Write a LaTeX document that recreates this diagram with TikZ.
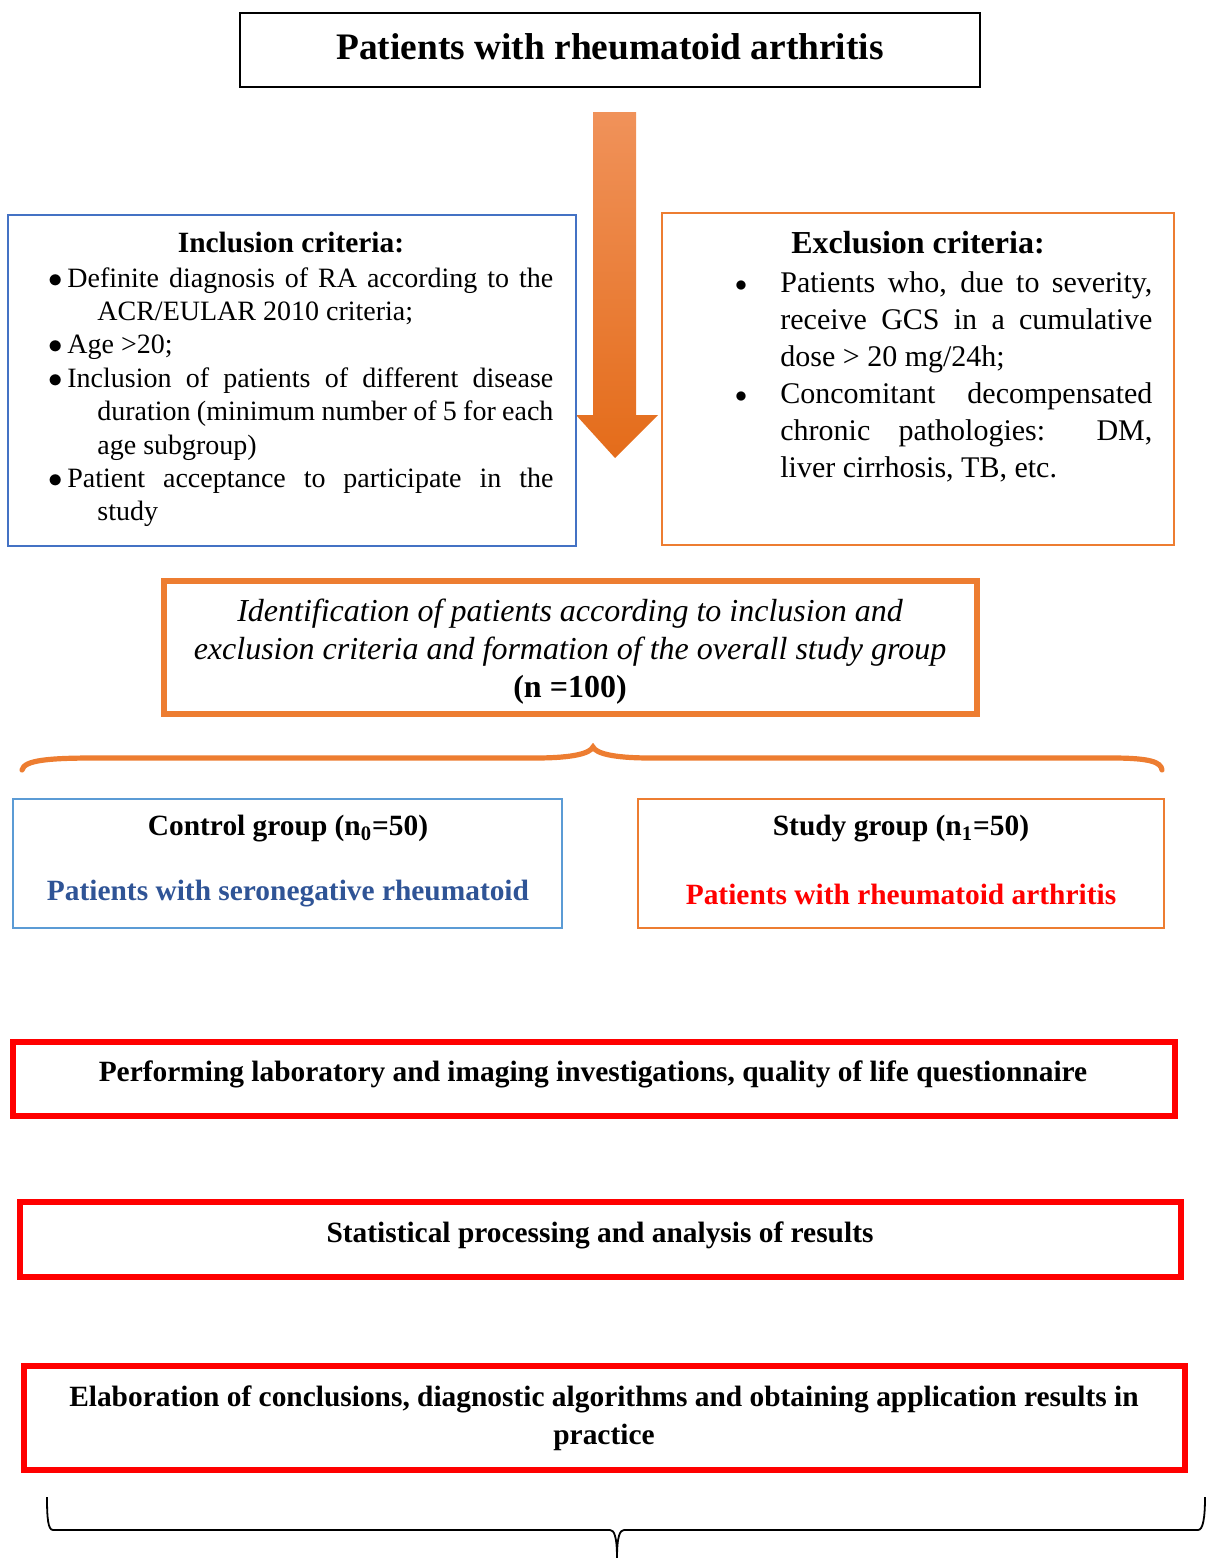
\documentclass[tikz,border=0pt]{standalone}
\usepackage{xcolor}
\usepackage{fontspec}
\setmainfont{Liberation Serif}
\usepackage{tikz}
\usetikzlibrary{positioning}

\definecolor{incblue}{HTML}{4472C4}
\definecolor{ctrlblue}{HTML}{5B9BD5}
\definecolor{txtblue}{HTML}{2F5496}
\definecolor{accorange}{HTML}{ED7D31}
\definecolor{arrtop}{HTML}{F0925A}
\definecolor{arrmid}{HTML}{F18127}
\definecolor{arrbot}{HTML}{E46C1A}
\definecolor{boxred}{HTML}{FF0000}

\hyphenpenalty=10000
\exhyphenpenalty=10000
\tolerance=9999

\newcommand{\incitem}[1]{\noindent\hangindent=24.5pt\hangafter=1\makebox[9.5pt][l]{$\bullet$}#1\par}
\newcommand{\excitem}[1]{\noindent\hangindent=23.5pt\hangafter=1\makebox[23.5pt][l]{\hspace{0.8pt}\raisebox{0.5pt}{\large$\bullet$}}#1\par}

\begin{document}
\begin{tikzpicture}[x=0.5pt,y=-0.5pt,
    thinbox/.style={line width=1pt},
    thickbox/.style={line width=2.6pt},
    boldtxt/.style={font=\fontsize{14.7}{16}\selectfont\bfseries, inner sep=0pt},
    crittxt/.style={inner sep=0pt, anchor=north west, align=justify}]
    \useasboundingbox (0,0) rectangle (1209,1558);
    % Title
    \draw[thinbox] (240,13) rectangle (980,87);
    \node[font=\fontsize{18.7}{20}\selectfont\bfseries, inner sep=0pt] (title) at (610,47) {Patients with rheumatoid arthritis};
    % Big arrow
    \shade[top color=arrtop, middle color=arrmid, bottom color=arrbot] (593,112) -- (636,112) -- (636,415) -- (658,415)
        -- (615,458) -- (576,415) -- (593,415) -- cycle;
    % Inclusion criteria
    \draw[thinbox, incblue] (8,215) rectangle (576,546);
    \node[boldtxt, font=\fontsize{14.7}{16}\selectfont\bfseries] (inctitle) at (291,243) {Inclusion criteria:};
    \node[crittxt, text width=252.5pt, font=\fontsize{14}{16.7}\selectfont] (inclist) at (48,267) {%
        \incitem{Definite diagnosis of RA according to the ACR/EULAR 2010 criteria;}
        \incitem{Age >20;}
        \incitem{Inclusion of patients of different disease duration (minimum number of 5 for each age subgroup)}
        \incitem{Patient acceptance to participate in the\linebreak study}};
    % Exclusion criteria
    \draw[thinbox, accorange] (662,213) rectangle (1174,545);
    \node[boldtxt, font=\fontsize{16}{18}\selectfont\bfseries] (exctitle) at (918,243) {Exclusion criteria:};
    \node[crittxt, text width=209.5pt, font=\fontsize{15}{18.5}\selectfont] (exclist) at (733,271) {%
        \excitem{Patients who, due to severity, receive GCS in a cumulative dose > 20 mg/24h;}
        \excitem{Concomitant decompensated chronic pathologies: DM,\linebreak liver cirrhosis, TB, etc.}};
    % Overall study group
    \draw[thickbox, accorange] (164,581) rectangle (977,714);
    \node[inner sep=0pt, align=center, font=\fontsize{16}{19}\selectfont\itshape] (overall) at (570,652)
        {Identification of patients according to inclusion and\\
         exclusion criteria and formation of the overall study group\\
         \upshape\bfseries(n =100)};
    % Orange brace
    \draw[accorange, line width=2.6pt, line cap=round] (22,770) .. controls (24,760) and (50,758) .. (95,758)
        -- (535,758) .. controls (575,758) and (590,753) .. (593,747)
        .. controls (596,753) and (611,758) .. (651,758) -- (1112,758)
        .. controls (1150,758) and (1161,762) .. (1162,770);
    % Control group
    \draw[line width=1.3pt, ctrlblue] (13,799) rectangle (562,928);
    \node[boldtxt] (ctrlhead) at (288,829) {Control group (n\textsubscript{0}=50)};
    \node[boldtxt, text=txtblue] (ctrltxt) at (288,894) {Patients with seronegative rheumatoid};
    % Study group
    \draw[line width=1.3pt, accorange] (638,799) rectangle (1164,928);
    \node[boldtxt] (studyhead) at (901,829) {Study group (n\textsubscript{1}=50)};
    \node[boldtxt, text=boxred] (studytxt) at (901,894) {Patients with rheumatoid arthritis};
    % Investigations
    \draw[thickbox, boxred] (13,1042) rectangle (1175,1116);
    \node[boldtxt] (invest) at (593,1074) {Performing laboratory and imaging investigations, quality of life questionnaire};
    % Statistics
    \draw[thickbox, boxred] (20,1202) rectangle (1181,1277);
    \node[boldtxt] (stats) at (600,1235) {Statistical processing and analysis of results};
    % Conclusions
    \draw[thickbox, boxred] (24,1366) rectangle (1185,1470);
    \node[boldtxt, align=center, font=\fontsize{14.7}{19}\selectfont\bfseries] (concl) at (604,1418)
        {Elaboration of conclusions, diagnostic algorithms and obtaining application results in\\ practice};
    % Bottom brace
    \draw[line width=0.9pt] (47,1497) .. controls (47,1518) and (48,1530) .. (53,1530) -- (610,1530)
        .. controls (614,1530) and (617,1536) .. (617,1558);
    \draw[line width=0.9pt] (617,1558) .. controls (617,1536) and (620,1530) .. (624,1530) -- (1198,1530)
        .. controls (1203,1530) and (1205,1518) .. (1205,1497);
\end{tikzpicture}
\end{document}
